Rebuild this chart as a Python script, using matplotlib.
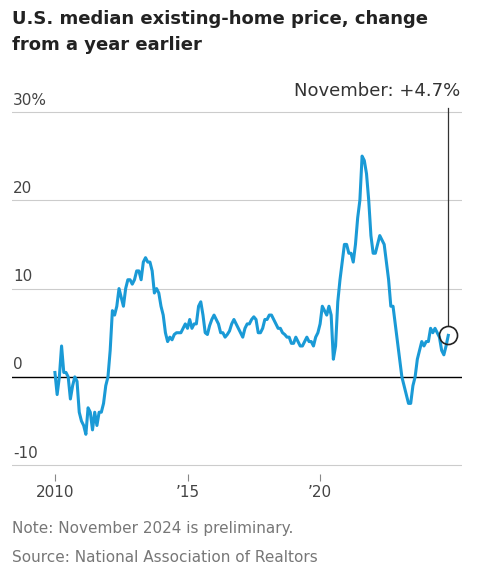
import matplotlib
matplotlib.use("Agg")
import matplotlib.pyplot as plt
import numpy as np

y2010 = [0.5,-2,0,3.5,0.5,0.5,0,-2.5,-1,0,-0.5,-4]
y2011 = [-5,-5.5,-6.5,-3.5,-4,-6,-4,-5.5,-4,-4,-3,-1]
y2012 = [0,3,7.5,7,8,10,9,8,10,11,11,10.5]
y2013 = [11,12,12,11,13,13.5,13,13,12,9.5,10,9.5]
y2014 = [8,7,5,4,4.5,4.2,4.8,5,5,5,5.5,6]
y2015 = [5.5,6.5,5.5,6,6,8,8.5,7,5,4.8,5.8,6.5]
y2016 = [7,6.5,6,5,5,4.5,4.8,5.2,6,6.5,6,5.5]
y2017 = [5,4.5,5.5,6,6,6.5,6.8,6.5,5,5,5.5,6.5]
y2018 = [6.5,7,7,6.5,6,5.5,5.5,5,4.8,4.5,4.5,3.8]
y2019 = [3.8,4.5,4,3.5,3.5,4,4.5,4,4,3.5,4.5,5]
y2020 = [6,8,7.5,7,8,7,2,3.5,8.5,11,13,15]
y2021 = [15,14,14,13,15,18,20,25,24.5,23,20,16]
y2022 = [14,14,15,16,15.5,15,13,11,8,8,6,4]
y2023 = [2,0,-1,-2,-3,-3,-1,0,2,3,4,3.5]
y2024 = [4,4,5.5,5,5.5,5,4.5,3,2.5,3.5,4.7]
values = y2010+y2011+y2012+y2013+y2014+y2015+y2016+y2017+y2018+y2019+y2020+y2021+y2022+y2023+y2024
x = 2010 + np.arange(len(values))/12
yticks = [-10, 0, 10, 20, 30]
ytick_labels = ["-10", "0", "10", "20", "30%"]
xticks = [2010, 2015, 2020]
xtick_labels = ["2010", "\u201915", "\u201920"]

fig = plt.figure(figsize=(4.79, 5.76), dpi=100)
ax = fig.add_axes([0.025, 0.177, 0.94, 0.644])
xl = 2008.38
ax.set_xlim(xl, 2025.36)
ax.set_ylim(-11, 31)
grey = "#cccccc"
for v, lab in zip(yticks, ytick_labels):
    if v == 0:
        ax.axhline(0, color="black", lw=1, zorder=2)
    else:
        ax.axhline(v, color=grey, lw=0.8, zorder=1)
    ax.text(xl + 0.05, v + 0.5, lab, fontsize=11, color="#444444", va="bottom", ha="left")
ax.plot(x, values, color="#1a9ad6", lw=2.2, zorder=3, solid_joinstyle="round")
xe, ye = x[-1], values[-1]
ax.plot([xe, xe], [ye + 1.2, 30.5], color="#333333", lw=0.9, zorder=4)
ax.plot(xe, ye, 'o', ms=13, mfc="none", mec="#222222", mew=1.2, zorder=5)
ax.text(2025.3, 31.3, "November: +4.7%", ha="right", va="bottom", fontsize=13, color="#333333")
for s in ax.spines.values():
    s.set_visible(False)
ax.set_yticks([])
ax.set_xticks(xticks)
ax.set_xticklabels(xtick_labels, fontsize=11, color="#444444")
ax.tick_params(axis="x", length=5, color="#888888", pad=3)
fig.text(0.025, 0.945, "U.S. median existing-home price, change\nfrom a year earlier", fontsize=13, fontweight="bold", color="#222222", va="center", linespacing=1.55)
fig.text(0.025, 0.075, "Note: November 2024 is preliminary.", fontsize=11, color="#777777")
fig.text(0.025, 0.025, "Source: National Association of Realtors", fontsize=11, color="#777777")
fig.savefig("out.png", dpi=100)
